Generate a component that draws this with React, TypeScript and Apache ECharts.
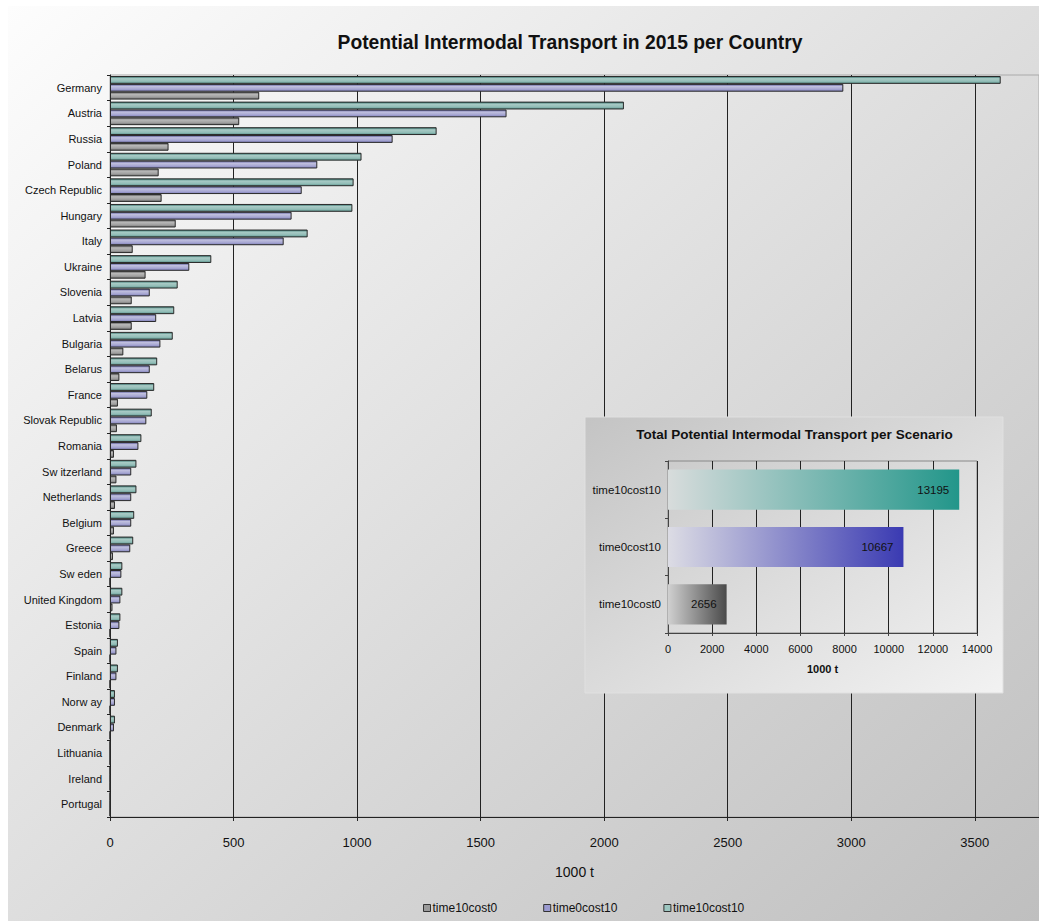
import React, { useEffect, useRef } from "react";
import * as echarts from "echarts";

const countries = [
  "Germany", "Austria", "Russia", "Poland", "Czech Republic", "Hungary", "Italy",
  "Ukraine", "Slovenia", "Latvia", "Bulgaria", "Belarus", "France", "Slovak Republic",
  "Romania", "Sw itzerland", "Netherlands", "Belgium", "Greece", "Sw eden",
  "United Kingdom", "Estonia", "Spain", "Finland", "Norw ay", "Denmark",
  "Lithuania", "Ireland", "Portugal",
];

const time10cost0 = [604, 523, 237, 197, 209, 266, 92, 144, 88, 88, 54, 38, 32, 28, 16, 26, 20, 16, 12, 0, 10, 0, 0, 0, 0, 0, 0, 0, 0];
const time0cost10 = [2968, 1605, 1144, 839, 776, 735, 703, 321, 161, 187, 204, 161, 151, 147, 115, 86, 86, 86, 82, 46, 42, 38, 26, 26, 20, 16, 0, 0, 0];
const time10cost10 = [3605, 2080, 1322, 1018, 986, 981, 800, 410, 274, 260, 254, 191, 179, 169, 127, 107, 107, 98, 94, 50, 50, 42, 32, 32, 20, 20, 0, 0, 0];

const seriesNames = ["time10cost0", "time0cost10", "time10cost10"];
const mainTicks = [0, 500, 1000, 1500, 2000, 2500, 3000, 3500];

const scenarios = ["time10cost0", "time0cost10", "time10cost10"];
const scenarioTotals = [2656, 10667, 13195];
const insetTicks = [0, 2000, 4000, 6000, 8000, 10000, 12000, 14000];

const FONT = "'Liberation Sans', Arial, sans-serif";

const vGrad = (stops: [number, string][]) =>
  new echarts.graphic.LinearGradient(0, 0, 0, 1, stops.map(([offset, color]) => ({ offset, color })));
const hGrad = (stops: [number, string][]) =>
  new echarts.graphic.LinearGradient(0, 0, 1, 0, stops.map(([offset, color]) => ({ offset, color })));

const mainFills = [
  vGrad([[0, "#5a5a5a"], [0.3, "#b8b8b8"], [0.7, "#a0a0a0"], [1, "#727272"]]),
  vGrad([[0, "#5a5a9e"], [0.3, "#c0c0de"], [0.7, "#a6a6d2"], [1, "#8080bc"]]),
  vGrad([[0, "#2f6f69"], [0.3, "#a8cac5"], [0.7, "#92bdb7"], [1, "#5e9891"]]),
];
const legendFills = ["#9a9a9a", "#9a9ad0", "#9cc6c0"];
const insetFills = [
  hGrad([[0, "#d0d0d0"], [1, "#4a4a4a"]]),
  hGrad([[0, "#dcdce4"], [1, "#3a3ab2"]]),
  hGrad([[0, "#d8dcdc"], [1, "#22968a"]]),
];

const mainData = [time10cost0, time0cost10, time10cost10];
// drawing order: teal on top of each band, then purple, then gray
const drawOrder = [2, 1, 0];

export default function App() {
  const ref = useRef<HTMLDivElement>(null);
  useEffect(() => {
    if (!ref.current) return;
    const chart = echarts.init(ref.current, null, { renderer: "svg" });
    const option: any = {
      animation: false,
      backgroundColor: new echarts.graphic.LinearGradient(0, 0, 1, 1, [
        { offset: 0, color: "#fdfdfd" },
        { offset: 1, color: "#bfbfbf" },
      ]),
      textStyle: { fontFamily: FONT },
      graphic: [
        {
          type: "text",
          x: 562,
          y: 36.5,
          style: {
            text: "Potential Intermodal Transport in 2015 per Country",
            font: `bold 19.3px ${FONT}`,
            fill: "#111",
            textAlign: "center",
            textVerticalAlign: "middle",
          },
        },
        {
          type: "rect",
          z: 1,
          shape: { x: 577, y: 411, width: 418, height: 276 },
          style: {
            fill: new echarts.graphic.LinearGradient(0, 0, 1, 1, [
              { offset: 0, color: "#c4c4c4" },
              { offset: 1, color: "#f2f2f2" },
            ]),
            stroke: "#e0e0e0",
            lineWidth: 1,
          },
        },
        {
          type: "text",
          z: 3,
          x: 786.5,
          y: 428,
          style: {
            text: "Total Potential Intermodal Transport per Scenario",
            font: `bold 13.5px ${FONT}`,
            fill: "#111",
            textAlign: "center",
            textVerticalAlign: "middle",
          },
        },
      ],
      legend: {
        left: 410,
        top: 891,
        itemWidth: 7,
        itemHeight: 7,
        itemGap: 46,
        textStyle: { fontSize: 12, color: "#111", fontFamily: FONT, padding: [0, 0, 0, -3] },
        data: seriesNames.map((n, i) => ({
          name: n,
          icon: "rect",
          itemStyle: { color: legendFills[i], borderColor: "#333", borderWidth: 1 },
        })),
      },
      grid: [
        {
          left: 102,
          top: 69,
          right: 0,
          bottom: 104,
          show: true,
          borderColor: "#aaaaaa",
          borderWidth: 1,
          backgroundColor: "transparent",
        },
        {
          left: 660,
          top: 455,
          width: 309,
          height: 172,
          show: true,
          z: 3,
          borderColor: "#888",
          borderWidth: 1,
          backgroundColor: "transparent",
        },
      ],
      xAxis: [
        {
          type: "value",
          gridIndex: 0,
          min: 0,
          max: 3760,
          interval: 500,
          name: "1000 t",
          nameLocation: "middle",
          nameGap: 48,
          nameTextStyle: { fontSize: 14, color: "#111" },
          axisLine: { show: true, lineStyle: { color: "#222" } },
          axisTick: { show: true, length: 4, lineStyle: { color: "#222" } },
          axisLabel: {
            fontSize: 13,
            color: "#111",
            margin: 19,
            showMaxLabel: false,
            formatter: (v: number) => (mainTicks.includes(v) ? String(v) : ""),
          },
          splitLine: { show: true, lineStyle: { color: "#222", width: 1 } },
        },
        {
          type: "value",
          gridIndex: 1,
          min: 0,
          max: 14000,
          interval: 2000,
          z: 4,
          name: "1000 t",
          nameLocation: "middle",
          nameGap: 30,
          nameTextStyle: { fontSize: 11, fontWeight: "bold", color: "#111" },
          axisLine: { show: true, lineStyle: { color: "#444" } },
          axisTick: { show: true, length: 3, lineStyle: { color: "#444" } },
          axisLabel: {
            fontSize: 11,
            color: "#111",
            margin: 10,
            formatter: (v: number) => (insetTicks.includes(v) ? String(v) : ""),
          },
          splitLine: { show: true, lineStyle: { color: "#222", width: 1 } },
        },
      ],
      yAxis: [
        {
          type: "category",
          gridIndex: 0,
          inverse: true,
          data: countries,
          axisLine: { show: true, lineStyle: { color: "#222" } },
          axisTick: { show: true, length: 3, lineStyle: { color: "#222" } },
          axisLabel: { fontSize: 11, color: "#111", margin: 8 },
          splitLine: { show: false },
        },
        {
          type: "category",
          gridIndex: 1,
          z: 4,
          data: scenarios,
          axisLine: { show: true, lineStyle: { color: "#444" } },
          axisTick: { show: true, length: 3, lineStyle: { color: "#444" } },
          axisLabel: { fontSize: 11.5, color: "#111", margin: 7 },
          splitLine: { show: false },
        },
      ],
      series: [
        ...drawOrder.map((i) => ({
          name: seriesNames[i],
          type: "bar",
          xAxisIndex: 0,
          yAxisIndex: 0,
          data: mainData[i],
          barGap: "0%",
          barCategoryGap: "8%",
          itemStyle: {
            color: mainFills[i],
            borderColor: "#2a2a2a",
            borderWidth: 1,
          },
        })),
        {
          name: "total",
          type: "bar",
          xAxisIndex: 1,
          yAxisIndex: 1,
          z: 5,
          barCategoryGap: "30%",
          data: scenarioTotals.map((v, i) => ({ value: v, itemStyle: { color: insetFills[i] } })),
          label: {
            show: true,
            position: "insideRight",
            distance: 10,
            fontSize: 11.5,
            color: "#111",
          },
        },
      ],
    };
    chart.setOption(option);
    return () => chart.dispose();
  }, []);
  return (
    <div
      ref={ref}
      style={{ position: "absolute", left: 8, top: 6, width: 1031, height: 915 }}
    />
  );
}
